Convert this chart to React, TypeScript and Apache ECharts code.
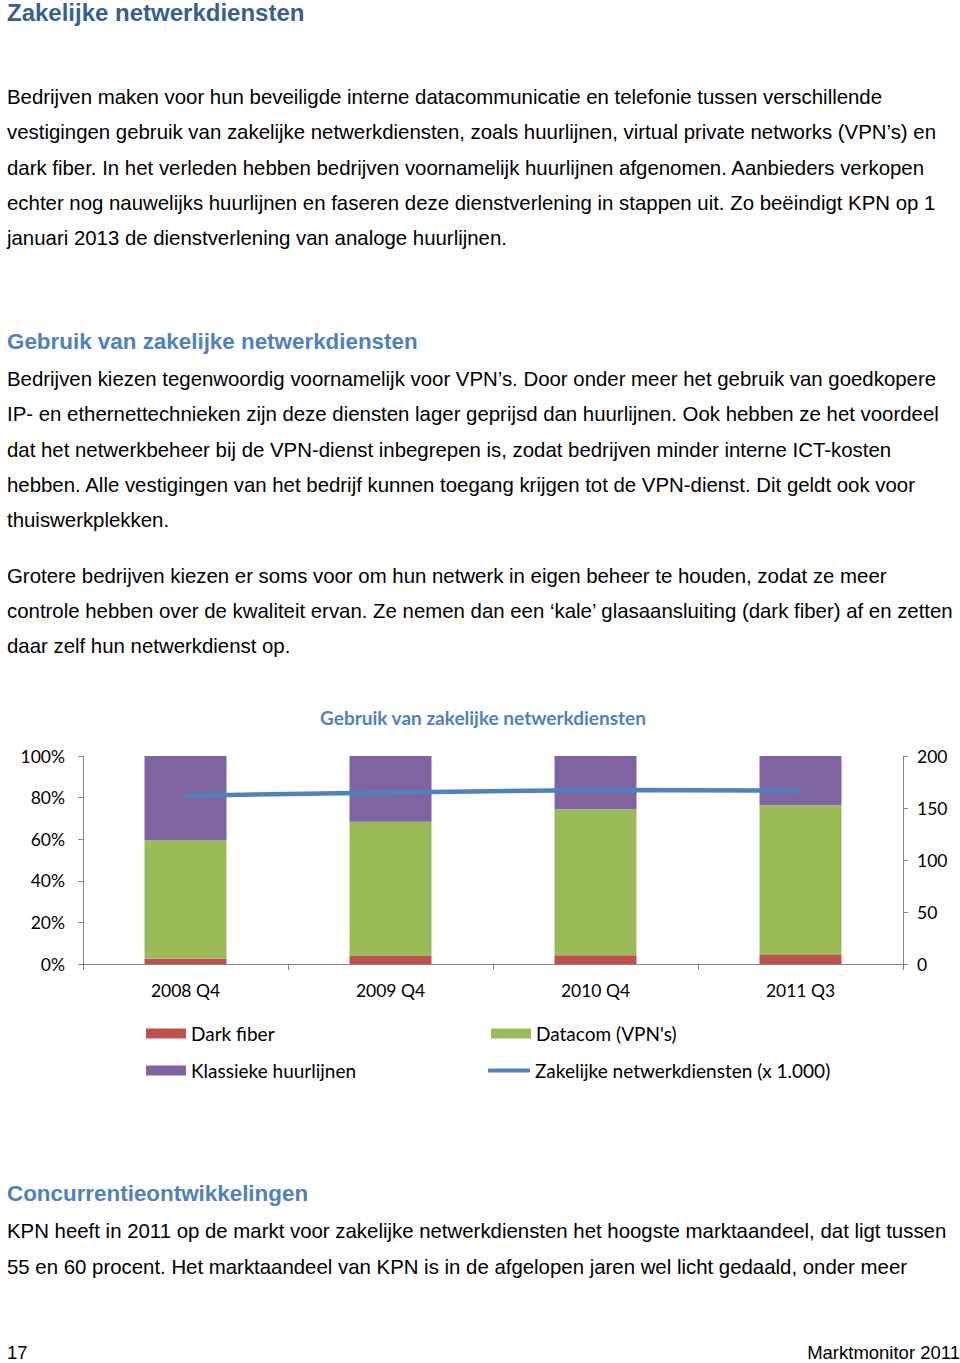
import React, { useEffect, useRef } from "react";
import * as echarts from "echarts";

const categories = ["2008 Q4", "2009 Q4", "2010 Q4", "2011 Q3"];
const darkFiber = [2.5, 3.8, 4.2, 4.3];
const datacom = [57.0, 64.6, 70.2, 72.0];
const klassiek = [40.5, 31.6, 25.6, 23.7];
const zakelijk = [161.8, 165.0, 167.3, 166.6];
const leftTicks = { min: 0, max: 100, interval: 20 };
const rightTicks = { min: 0, max: 200, interval: 50 };

const heading1 = "Zakelijke netwerkdiensten";
const para1 = [
  "Bedrijven maken voor hun beveiligde interne datacommunicatie en telefonie tussen verschillende",
  "vestigingen gebruik van zakelijke netwerkdiensten, zoals huurlijnen, virtual private networks (VPN’s) en",
  "dark fiber. In het verleden hebben bedrijven voornamelijk huurlijnen afgenomen. Aanbieders verkopen",
  "echter nog nauwelijks huurlijnen en faseren deze dienstverlening in stappen uit. Zo beëindigt KPN op 1",
  "januari 2013 de dienstverlening van analoge huurlijnen.",
];
const heading2 = "Gebruik van zakelijke netwerkdiensten";
const para2 = [
  "Bedrijven kiezen tegenwoordig voornamelijk voor VPN’s. Door onder meer het gebruik van goedkopere",
  "IP- en ethernettechnieken zijn deze diensten lager geprijsd dan huurlijnen. Ook hebben ze het voordeel",
  "dat het netwerkbeheer bij de VPN-dienst inbegrepen is, zodat bedrijven minder interne ICT-kosten",
  "hebben. Alle vestigingen van het bedrijf kunnen toegang krijgen tot de VPN-dienst. Dit geldt ook voor",
  "thuiswerkplekken.",
];
const para3 = [
  "Grotere bedrijven kiezen er soms voor om hun netwerk in eigen beheer te houden, zodat ze meer",
  "controle hebben over de kwaliteit ervan. Ze nemen dan een ‘kale’ glasaansluiting (dark fiber) af en zetten",
  "daar zelf hun netwerkdienst op.",
];
const chartTitle = "Gebruik van zakelijke netwerkdiensten";
const heading3 = "Concurrentieontwikkelingen";
const para4 = [
  "KPN heeft in 2011 op de markt voor zakelijke netwerkdiensten het hoogste marktaandeel, dat ligt tussen",
  "55 en 60 procent. Het marktaandeel van KPN is in de afgelopen jaren wel licht gedaald, onder meer",
];
const pageNumber = "17";
const footerRight = "Marktmonitor 2011";

const BODY_FONT = "'Liberation Sans', Arial, sans-serif";
const CHART_FONT = "Lato, 'Open Sans', sans-serif";

function textLines(lines: string[], startY: number, step: number) {
  return lines.map((t, i) => ({
    type: "text",
    x: 7,
    y: startY + i * step,
    style: {
      text: t,
      fill: "#000",
      font: `20.4px ${BODY_FONT}`,
      textVerticalAlign: "middle",
      textAlign: "left",
    },
  }));
}

function heading(t: string, y: number, size: number, color: string) {
  return {
    type: "text",
    x: 7,
    y,
    style: {
      text: t,
      fill: color,
      font: `bold ${size}px ${BODY_FONT}`,
      textVerticalAlign: "middle",
      textAlign: "left",
    },
  };
}

export default function App() {
  const ref = useRef<HTMLDivElement>(null);
  useEffect(() => {
    if (!ref.current) return;
    const chart = echarts.init(ref.current, null, { renderer: "svg" });
    const axisColor = "#868686";
    const legendText = { fontFamily: CHART_FONT, fontSize: 19, color: "#000" };
    const legendBase = { padding: 0, itemWidth: 40, itemHeight: 10, icon: "rect", textStyle: legendText };
    chart.setOption({
      animation: false,
      backgroundColor: "#fff",
      title: {
        text: chartTitle,
        left: 483,
        top: 708,
        textAlign: "center",
        padding: 0,
        textStyle: { fontFamily: CHART_FONT, fontSize: 19, fontWeight: "bold", color: "#4F81BD" },
      },
      grid: { left: 83, right: 57, top: 756, bottom: 1363 - 964 },
      legend: [
        { ...legendBase, data: ["Dark fiber"], left: 146, top: 1024 },
        { ...legendBase, data: ["Datacom (VPN's)"], left: 491, top: 1024 },
        { ...legendBase, data: ["Klassieke huurlijnen"], left: 146, top: 1061 },
        { ...legendBase, data: ["Zakelijke netwerkdiensten (x 1.000)"], left: 488, top: 1061, itemWidth: 42, itemHeight: 4, icon: "roundRect" },
      ],
      xAxis: {
        type: "category",
        data: categories,
        axisLine: { lineStyle: { color: axisColor } },
        axisTick: { show: true, length: 6, lineStyle: { color: axisColor } },
        axisLabel: { margin: 17, fontFamily: CHART_FONT, fontSize: 17.5, color: "#000" },
      },
      yAxis: [
        {
          type: "value",
          ...leftTicks,
          splitLine: { show: false },
          axisLine: { show: true, lineStyle: { color: axisColor } },
          axisTick: { show: true, length: 5, lineStyle: { color: axisColor } },
          axisLabel: { formatter: "{value}%", margin: 18, fontFamily: CHART_FONT, fontSize: 17.5, color: "#000" },
        },
        {
          type: "value",
          ...rightTicks,
          splitLine: { show: false },
          axisLine: { show: true, lineStyle: { color: axisColor } },
          axisTick: { show: true, length: 5, lineStyle: { color: axisColor } },
          axisLabel: { margin: 14, fontFamily: CHART_FONT, fontSize: 17.5, color: "#000" },
        },
      ],
      series: [
        { name: "Dark fiber", type: "bar", stack: "s", barWidth: "40%", data: darkFiber, itemStyle: { color: "#C0504D" } },
        { name: "Datacom (VPN's)", type: "bar", stack: "s", barWidth: "40%", data: datacom, itemStyle: { color: "#9BBB59" } },
        { name: "Klassieke huurlijnen", type: "bar", stack: "s", barWidth: "40%", data: klassiek, itemStyle: { color: "#8064A2" } },
        {
          name: "Zakelijke netwerkdiensten (x 1.000)",
          type: "line",
          yAxisIndex: 1,
          data: zakelijk,
          symbol: "none",
          lineStyle: { color: "#4F81BD", width: 4.5 },
          itemStyle: { color: "#4F81BD" },
        },
      ],
      graphic: [
        heading(heading1, 12, 24, "#365F91"),
        ...textLines(para1, 97, 35.25),
        heading(heading2, 341, 22.4, "#4F81BD"),
        ...textLines(para2, 379, 35.25),
        ...textLines(para3, 576, 35),
        heading(heading3, 1193, 22.4, "#4F81BD"),
        ...textLines(para4, 1231, 36),
        {
          type: "text",
          x: 7,
          y: 1352,
          style: { text: pageNumber, fill: "#000", font: `18.5px ${BODY_FONT}`, textVerticalAlign: "middle" },
        },
        {
          type: "text",
          x: 960,
          y: 1352,
          style: { text: footerRight, fill: "#000", font: `18.5px ${BODY_FONT}`, textVerticalAlign: "middle", textAlign: "right" },
        },
      ],
    });
    return () => chart.dispose();
  }, []);
  return (
    <div
      ref={ref}
      style={{ position: "absolute", left: 0, top: 0, width: 960, height: 1363, background: "#fff" }}
    />
  );
}
